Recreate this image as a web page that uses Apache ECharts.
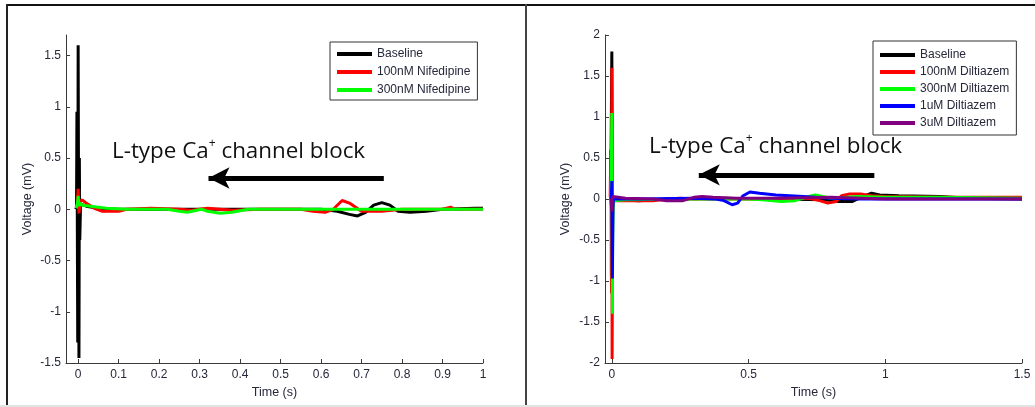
<!DOCTYPE html>
<html>
<head>
<meta charset="utf-8">
<script src="https://cdn.jsdelivr.net/npm/echarts@6/dist/echarts.min.js"></script>
<style>
  html, body { margin: 0; padding: 0; background: #fff; }
  #chartDiv { width: 1035px; height: 407px; }
</style>
</head>
<body>
<div id="chartDiv"></div>
<script>
// left panel: nifedipine, [time (s), voltage (mV)]
var nifBaseline = [[-0.006, 0], [-0.004, 0.02], [-0.003, 0.95], [-0.001, -1.3], [0, 1.6], [0.002, -1.45], [0.003, 0.5],
    [0.004, -0.3], [0.006, 0.05], [0.01, 0.04], [0.02, 0.03], [0.05, 0.01], [0.1, 0], [0.3, 0], [0.45, 0], [0.6, 0],
    [0.64, -0.02], [0.67, -0.05], [0.69, -0.065], [0.71, -0.03], [0.73, 0.04], [0.75, 0.065], [0.77, 0.04],
    [0.79, -0.02], [0.82, -0.03], [0.86, -0.02], [0.9, 0], [0.98, 0.01], [1.0, 0.01]];
var nif100 = [[-0.005, 0.02], [-0.002, 0.06], [0, 0.2], [0.002, -0.04], [0.005, 0.08], [0.01, 0.09], [0.02, 0.06],
    [0.04, 0.01], [0.06, -0.02], [0.1, -0.02], [0.12, 0], [0.18, 0.01], [0.25, 0], [0.28, -0.01], [0.32, 0.01],
    [0.38, -0.01], [0.45, 0], [0.55, 0], [0.58, -0.02], [0.61, -0.03], [0.63, 0], [0.652, 0.085], [0.67, 0.06],
    [0.7, -0.02], [0.75, -0.02], [0.8, 0], [0.9, 0], [0.92, 0.02], [0.93, 0], [1.0, 0]];
var nif300 = [[-0.005, 0.01], [-0.002, 0.05], [0, 0.13], [0.002, 0.03], [0.005, 0.06], [0.01, 0.04], [0.03, 0.03],
    [0.07, 0.01], [0.12, 0], [0.22, 0], [0.25, -0.02], [0.27, -0.03], [0.305, 0], [0.32, -0.02], [0.35, -0.04],
    [0.38, -0.03], [0.42, 0], [0.5, 0], [1.0, 0]];

// right panel: diltiazem
var dilBaseline = [[-0.004, 0], [-0.002, 0.02], [0, 1.8], [0.002, -0.4], [0.004, 0.02], [0.02, -0.01], [0.1, -0.02],
    [0.2, 0], [0.4, 0.01], [0.6, 0], [0.78, -0.01], [0.83, -0.03], [0.88, -0.03], [0.91, 0.02], [0.95, 0.07],
    [0.98, 0.05], [1.05, 0.04], [1.2, 0.03], [1.3, 0.01], [1.5, 0]];
var dil100 = [[-0.006, 0.02], [-0.004, 0.6], [-0.003, 0.4], [-0.002, -0.88], [-0.001, -1.15], [0, 1.6], [0.001, -1.95],
    [0.003, -0.1], [0.006, -0.02], [0.05, -0.02], [0.15, -0.02], [0.2, 0], [0.25, 0.01], [0.3, 0], [0.5, 0],
    [0.72, 0.01], [0.76, -0.02], [0.79, -0.05], [0.82, -0.03], [0.84, 0.04], [0.87, 0.06], [0.91, 0.06],
    [0.95, 0.04], [1.0, 0.03], [1.2, 0.02], [1.5, 0.02]];
var dil300 = [[-0.003, 0], [0, 1.05], [0.001, 0.4], [0.002, -1.4], [0.003, -0.55], [0.005, -0.02], [0.05, -0.01],
    [0.3, 0], [0.5, 0], [0.55, -0.01], [0.62, -0.03], [0.67, -0.02], [0.72, 0.03], [0.745, 0.05], [0.77, 0.03],
    [0.8, 0.01], [0.9, 0.03], [1.0, 0.02], [1.2, 0.02], [1.5, 0.01]];
var dil1u = [[-0.002, 0], [0, 0.22], [0.002, -0.97], [0.004, -0.1], [0.006, 0], [0.1, 0], [0.3, 0.01], [0.38, 0],
    [0.41, -0.02], [0.44, -0.07], [0.46, -0.05], [0.48, 0.04], [0.505, 0.085], [0.54, 0.07], [0.6, 0.05],
    [0.7, 0.03], [0.8, 0.01], [0.9, 0], [1.0, 0], [1.5, 0]];
var dil3u = [[-0.004, 0.01], [0, -0.15], [0.003, 0.03], [0.01, 0.01], [0.05, 0.01], [0.15, 0], [0.2, -0.02],
    [0.26, -0.02], [0.3, 0.02], [0.33, 0.03], [0.37, 0.02], [0.45, 0.01], [0.6, 0.01], [0.8, 0.02], [1.0, 0], [1.5, 0]];

var leftXTicks = [0, 0.1, 0.2, 0.3, 0.4, 0.5, 0.6, 0.7, 0.8, 0.9, 1];
var leftYTicks = [-1.5, -1, -0.5, 0, 0.5, 1, 1.5];
var rightXTicks = [0, 0.5, 1, 1.5];
var rightYTicks = [-2, -1.5, -1, -0.5, 0, 0.5, 1, 1.5, 2];

var leftNames = ['Baseline', '100nM Nifedipine', '300nM Nifedipine'];
var rightNames = ['Baseline', '100nM Diltiazem', '300nM Diltiazem', '1uM Diltiazem', '3uM Diltiazem'];

// arrow under "L-type Ca+ channel block", [from, to] in data units
var leftArrow = [[0.755, 0.305], [0.322, 0.305]];
var rightArrow = [[0.96, 0.295], [0.318, 0.295]];

var textColor = '#26283a';
var axisColor = '#3a3a3a';

function valueAxis(grid, min, max, ticks, name, gap, isY) {
    return {
        type: 'value', gridIndex: grid, min: min, max: max,
        name: name, nameLocation: 'middle', nameGap: gap,
        nameTextStyle: { fontFamily: 'Liberation Sans', fontSize: 12.5, color: textColor },
        axisLine: { show: true, onZero: false, lineStyle: { color: axisColor, width: 1 } },
        axisTick: { show: true, inside: true, length: 4, customValues: ticks, lineStyle: { color: axisColor } },
        axisLabel: { customValues: ticks, margin: isY ? 5 : 6, fontFamily: 'Liberation Sans', fontSize: 12, color: textColor,
            formatter: function (v) { return String(v); } },
        splitLine: { show: false }
    };
}

function lineSeries(name, data, color, xi, arrow) {
    var s = {
        name: name, type: 'line', data: data, xAxisIndex: xi, yAxisIndex: xi,
        showSymbol: false, symbol: 'none', animation: false,
        lineStyle: { color: color, width: 3 }, itemStyle: { color: color }
    };
    if (arrow) {
        s.markLine = {
            silent: true, animation: false,
            symbol: ['none', 'arrow'], symbolSize: [16, 21],
            label: { show: false },
            lineStyle: { color: '#000', width: 5, type: 'solid' },
            data: [[{ coord: arrow[0] }, { coord: arrow[1] }]]
        };
    }
    return s;
}

function annotation(x, y) {
    return {
        type: 'text', left: x, top: y, silent: true,
        style: {
            text: '{a|L-type Ca}{s|+}{a| channel block}',
            rich: {
                a: { fontFamily: 'Open Sans', fontSize: 22.4, fill: '#111', lineHeight: 28 },
                s: { fontFamily: 'Open Sans', fontSize: 12, fill: '#111', lineHeight: 28, verticalAlign: 'top', padding: [0, 0, 12, 0] }
            }
        }
    };
}

var legendStyle = {
    orient: 'vertical', icon: 'rect', itemWidth: 35, itemHeight: 4,
    borderColor: '#333', borderWidth: 1, backgroundColor: '#fff',
    textStyle: { fontFamily: 'Liberation Sans', fontSize: 12, color: textColor }
};

var myChart = echarts.init(document.getElementById('chartDiv'));
var option = {
    backgroundColor: '#fff',
    animation: false,
    grid: [
        { left: 66, top: 35, width: 417, height: 328 },
        { left: 605, top: 35, width: 417, height: 328 }
    ],
    xAxis: [
        valueAxis(0, -0.03, 1, leftXTicks, 'Time (s)', 23, false),
        valueAxis(1, -0.025, 1.5, rightXTicks, 'Time (s)', 23, false)
    ],
    yAxis: [
        valueAxis(0, -1.5, 1.7, leftYTicks, 'Voltage (mV)', 32, true),
        valueAxis(1, -2, 2, rightYTicks, 'Voltage (mV)', 33, true)
    ],
    legend: [
        Object.assign({ left: 330, top: 42, padding: [6, 7, 4, 7], itemGap: 6, data: leftNames }, legendStyle),
        Object.assign({ left: 873, top: 41, padding: [8, 7, 6, 7], itemGap: 5, data: rightNames }, legendStyle)
    ],
    series: [
        lineSeries(leftNames[0], nifBaseline, '#000000', 0, leftArrow),
        lineSeries(leftNames[1], nif100, '#ff0000', 0),
        lineSeries(leftNames[2], nif300, '#00ff00', 0),
        lineSeries(rightNames[0], dilBaseline, '#000000', 1, rightArrow),
        lineSeries(rightNames[1], dil100, '#ff0000', 1),
        lineSeries(rightNames[2], dil300, '#00ff00', 1),
        lineSeries(rightNames[3], dil1u, '#0000ff', 1),
        lineSeries(rightNames[4], dil3u, '#800080', 1)
    ],
    graphic: [
        { type: 'rect', shape: { x: 6, y: 4, width: 1029, height: 2 }, style: { fill: '#111' }, silent: true },
        { type: 'rect', shape: { x: 6, y: 4, width: 2, height: 403 }, style: { fill: '#222' }, silent: true },
        { type: 'rect', shape: { x: 525, y: 4, width: 2, height: 403 }, style: { fill: '#444' }, silent: true },
        { type: 'rect', shape: { x: 0, y: 405, width: 1035, height: 2 }, style: { fill: '#e4e4e4' }, silent: true },
        annotation(112, 138),
        annotation(649, 133)
    ]
};
myChart.setOption(option);
</script>
</body>
</html>
